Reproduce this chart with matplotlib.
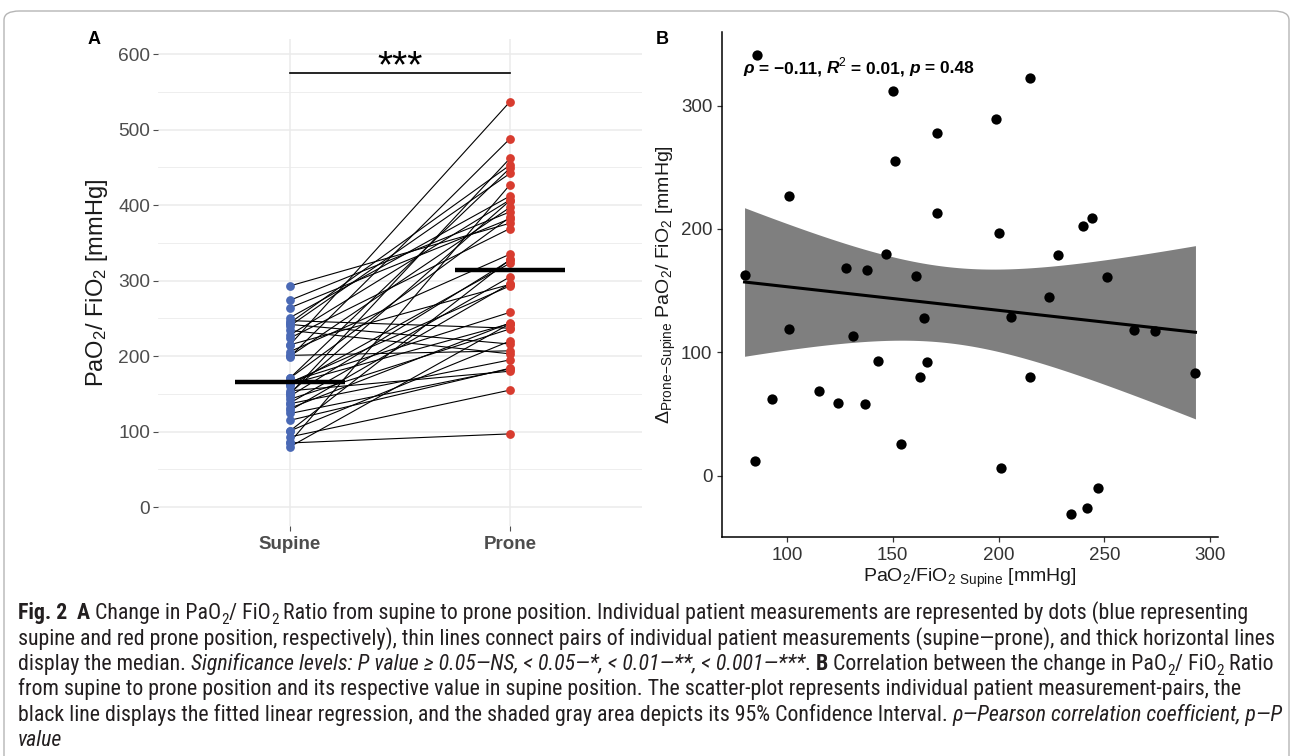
import numpy as np
import matplotlib
matplotlib.use("Agg")
import matplotlib.pyplot as plt
from matplotlib import font_manager
from matplotlib.transforms import IdentityTransform
from matplotlib.patches import FancyBboxPatch

# ---------------- data ----------------
categories = ["Supine", "Prone"]
supine = [80, 86, 85, 93, 101, 101, 115, 124, 128, 131, 137, 138, 143, 147, 150,
          151, 154, 161, 163, 165, 166, 171, 171, 199, 200, 201, 206, 215, 215, 224,
          228, 234, 240, 242, 244, 247, 251, 264, 274, 293]
prone = [243, 427, 97, 155, 328, 220, 184, 183, 296, 244, 195, 305, 236, 327, 462,
         406, 180, 323, 243, 293, 258, 449, 384, 488, 397, 207, 335, 537, 295, 369,
         407, 203, 442, 216, 453, 237, 412, 382, 391, 376]
a_yticks = [0, 100, 200, 300, 400, 500, 600]
b_xticks = [100, 150, 200, 250, 300]
b_yticks = [0, 100, 200, 300]
sig_label = "***"

supine = np.array(supine, float)
prone = np.array(prone, float)
delta = prone - supine

plt.rcParams['font.family'] = ['Liberation Sans', 'DejaVu Sans']
plt.rcParams['mathtext.default'] = 'regular'

W, H, DPI = 1293, 756, 100
fig = plt.figure(figsize=(W / DPI, H / DPI), dpi=DPI)

def fx(px):
    return px / W

def fy(py):
    return 1 - py / H

# ---------------- panel A ----------------
axA = fig.add_axes([fx(158), fy(526), fx(642) - fx(158), fy(39) - fy(526)])
axA.set_xlim(0.4, 2.6)
axA.set_ylim(-25, 620)
for s in axA.spines.values():
    s.set_visible(False)
axA.set_yticks(a_yticks)
axA.set_yticks([v + 50 for v in a_yticks[:-1]], minor=True)
axA.set_xticks([1, 2])
axA.set_xticklabels(categories, fontweight='bold', fontsize=13.5, color='#4D4D4D')
axA.tick_params(axis='y', which='major', labelsize=13.8, labelcolor='#4D4D4D',
                color='#4D4D4D', length=3.5, width=0.8, pad=2)
axA.tick_params(axis='y', which='minor', length=0)
axA.tick_params(axis='x', length=3.5, color='#4D4D4D', width=0.8, pad=4)
axA.grid(True, which='major', color='#EBEBEB', lw=1.1)
axA.grid(True, which='minor', axis='y', color='#EBEBEB', lw=0.6)
axA.set_axisbelow(True)
axA.set_ylabel(r'PaO$_2$/ FiO$_2$ [mmHg]', fontsize=17, color='#1A1A1A', labelpad=6)

for s_, p_ in zip(supine, prone):
    axA.plot([1, 2], [s_, p_], color='black', lw=0.8, zorder=2)
axA.scatter(np.ones_like(supine), supine, s=40, color='#4A69B5', zorder=3, lw=0)
axA.scatter(np.full_like(prone, 2), prone, s=40, color='#D83C2F', zorder=3, lw=0)
axA.plot([0.75, 1.25], [np.median(supine)] * 2, color='black', lw=3.2, zorder=4,
         solid_capstyle='butt')
axA.plot([1.75, 2.25], [np.median(prone)] * 2, color='black', lw=3.2, zorder=4,
         solid_capstyle='butt')
axA.plot([1, 2], [575, 575], color='black', lw=1.2)
axA.text(1.5, 569, sig_label, ha='center', va='baseline', fontsize=28, color='black')

fig.text(fx(88), fy(40), "A", fontsize=13, fontweight='bold', ha='left', va='center')
fig.text(fx(656), fy(40), "B", fontsize=13, fontweight='bold', ha='left', va='center')

# ---------------- panel B ----------------
axB = fig.add_axes([fx(722), fy(537), fx(1218) - fx(722), fy(32) - fy(537)])
xr = supine.max() - supine.min()
yr = delta.max() - delta.min()
axB.set_xlim(supine.min() - 0.05 * xr, supine.max() + 0.05 * xr)
axB.set_ylim(delta.min() - 0.05 * yr, delta.max() + 0.05 * yr)
for k in ['top', 'right']:
    axB.spines[k].set_visible(False)
for k in ['left', 'bottom']:
    axB.spines[k].set_linewidth(1.1)
axB.set_xticks(b_xticks)
axB.set_yticks(b_yticks)
axB.tick_params(labelsize=13.5, labelcolor='#333333', color='#333333', length=3.5, width=0.9)

n = len(supine)
b1, b0 = np.polyfit(supine, delta, 1)
xx = np.linspace(supine.min(), supine.max(), 100)
yy = b0 + b1 * xx
res = delta - (b0 + b1 * supine)
s_err = np.sqrt(np.sum(res ** 2) / (n - 2))
sxx = np.sum((supine - supine.mean()) ** 2)
se = s_err * np.sqrt(1 / n + (xx - supine.mean()) ** 2 / sxx)
tval = 2.024
axB.fill_between(xx, yy - tval * se, yy + tval * se, color='#7F7F7F', lw=0, zorder=1)
axB.plot(xx, yy, color='black', lw=2.2, zorder=2)
axB.scatter(supine, delta, s=55, color='black', lw=0, zorder=3)

axB.set_xlabel(r'PaO$_2$/FiO$_{2\ Supine}$ [mmHg]', fontsize=14, color='#1A1A1A', labelpad=2)
axB.set_ylabel(r'$\Delta_{Prone\!-\!Supine}$ PaO$_2$/ FiO$_2$ [mmHg]', fontsize=14,
               color='#1A1A1A', labelpad=2)

renderer = fig.canvas.get_renderer()
IDT = IdentityTransform()

def text_width(txt, **kw):
    t1 = fig.text(0, 0, txt + '|', transform=IDT, **kw)
    t2 = fig.text(0, 0, '|', transform=IDT, **kw)
    w = t1.get_window_extent(renderer).width - t2.get_window_extent(renderer).width
    t1.remove(); t2.remove()
    return w

def draw_runs(x0, y, runs, size, family, color='#231F20', measure_only=False, stretch='normal'):
    x = x0
    for txt, sty in runs:
        kw = dict(family=family, fontsize=size, color=color, fontstretch=stretch)
        dy = 0
        if sty == 'bold':
            kw['fontweight'] = 'bold'
        elif sty == 'italic':
            kw['fontstyle'] = 'italic'
        elif sty == 'bolditalic':
            kw['fontweight'] = 'bold'; kw['fontstyle'] = 'italic'
        elif sty == 'sub':
            kw['fontsize'] = size * 0.7
            dy = -size * 0.22 * DPI / 72
        elif sty == 'sup':
            kw['fontsize'] = size * 0.7
            dy = size * 0.38 * DPI / 72
        w = text_width(txt, **kw)
        if not measure_only:
            fig.text(x, y + dy, txt, transform=IDT, ha='left', va='baseline', **kw)
        x += w
    return x - x0

# stats annotation in panel B
stat_runs = [("ρ", 'bolditalic'), (" = −0.11, ", 'bold'), ("R", 'bolditalic'),
             ("2", 'sup'), (" = 0.01, ", 'bold'), ("p", 'bolditalic'), (" = 0.48", 'bold')]
draw_runs(743, H - 73, stat_runs, 12.5, ['Liberation Sans', 'DejaVu Sans'], color='black')

# ---------------- caption ----------------
ttf = font_manager.fontManager.ttflist
names = {f.name for f in ttf}
cap_stretch = 'normal'
if 'Liberation Sans Narrow' in names:
    cap_family = ['Liberation Sans Narrow']
elif 'Roboto Condensed' in names:
    cap_family = ['Roboto Condensed']
elif 'Open Sans Condensed' in names:
    cap_family = ['Open Sans Condensed']
elif any(f.name == 'DejaVu Sans' and str(f.stretch) in ('condensed', '75', 'semi-condensed', '87')
         for f in ttf):
    cap_family = ['DejaVu Sans']
    cap_stretch = 'condensed'
elif 'Roboto' in names:
    cap_family = ['Roboto']
else:
    cap_family = ['Liberation Sans']
cap_family = cap_family + ['DejaVu Sans']

N, B, I, S = 'normal', 'bold', 'italic', 'sub'
cap_lines = [
    [("Fig. 2", B), ("  ", N), ("A", B), (" Change in PaO", N), ("2", S), ("/ FiO", N), ("2", S),
     (" Ratio from supine to prone position. Individual patient measurements are represented by dots (blue representing", N)],
    [("supine and red prone position, respectively), thin lines connect pairs of individual patient measurements (supine—prone), and thick horizontal lines", N)],
    [("display the median. ", N), ("Significance levels: P value ≥ 0.05—NS, < 0.05—*, < 0.01—**, < 0.001—***", I),
     (". ", N), ("B", B), (" Correlation between the change in PaO", N), ("2", S), ("/ FiO", N), ("2", S), (" Ratio", N)],
    [("from supine to prone position and its respective value in supine position. The scatter-plot represents individual patient measurement-pairs, the", N)],
    [("black line displays the fitted linear regression, and the shaded gray area depicts its 95% Confidence Interval. ", N),
     ("ρ—Pearson correlation coefficient, p—P", I)],
    [("value", I)],
]
base = 13.0
wmax = max(draw_runs(0, 0, ln, base, cap_family, measure_only=True, stretch=cap_stretch)
           for ln in cap_lines)
cap_size = base * (1277 - 18) / wmax
y0 = 619
for i, runs in enumerate(cap_lines):
    draw_runs(18, H - (y0 + i * 25.5), runs, cap_size, cap_family, stretch=cap_stretch)

# figure frame
frame = FancyBboxPatch((fx(4), fy(H + 30)), fx(1289) - fx(4), fy(11) - fy(H + 30),
                       boxstyle="round,pad=0,rounding_size=0.012", transform=fig.transFigure,
                       fill=False, edgecolor='#B5B5B5', lw=1.0, clip_on=False)
fig.patches.append(frame)

fig.savefig("out.png", dpi=DPI)
